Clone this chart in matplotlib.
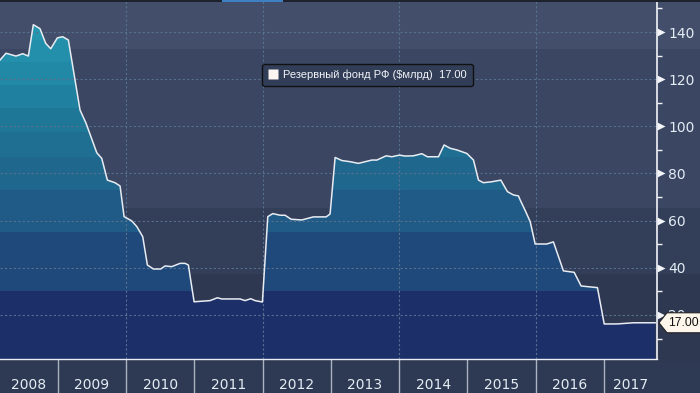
import matplotlib
matplotlib.use("Agg")
import matplotlib.pyplot as plt
import matplotlib.transforms as mtransforms
import numpy as np
from matplotlib.lines import Line2D
from matplotlib.patches import Polygon, Rectangle

# Резервный фонд РФ, $ млрд (время в долях года)
t_year = [
    2008.155, 2008.243, 2008.389, 2008.488, 2008.570, 2008.643, 2008.741, 2008.824,
    2008.898, 2008.994, 2009.073, 2009.156, 2009.327, 2009.415, 2009.572, 2009.645,
    2009.727, 2009.839, 2009.913, 2009.972, 2010.084, 2010.158, 2010.245, 2010.313,
    2010.401, 2010.508, 2010.572, 2010.670, 2010.792, 2010.865, 2010.913, 2010.997,
    2011.231, 2011.338, 2011.403, 2011.670, 2011.743, 2011.827, 2011.890, 2011.997,
    2012.076, 2012.149, 2012.256, 2012.329, 2012.418, 2012.574, 2012.744, 2012.930,
    2012.988, 2013.062, 2013.160, 2013.282, 2013.403, 2013.600, 2013.673, 2013.809,
    2013.893, 2014.003, 2014.087, 2014.208, 2014.332, 2014.413, 2014.575, 2014.658,
    2014.746, 2014.844, 2014.991, 2015.088, 2015.161, 2015.233, 2015.357, 2015.488,
    2015.585, 2015.673, 2015.746, 2015.771, 2015.850, 2015.918, 2015.991, 2016.162,
    2016.258, 2016.405, 2016.562, 2016.664, 2016.903, 2017.002, 2017.188, 2017.431,
    2017.748,
]
value_bn = [
    128.1, 131.0, 129.8, 130.8, 129.8, 143.1, 141.4, 135.2,
    132.9, 137.5, 138.0, 136.6, 106.9, 101.3, 88.8, 86.4,
    77.2, 76.1, 74.7, 61.7, 59.9, 57.5, 53.2, 41.2,
    39.5, 39.5, 40.8, 40.5, 41.9, 41.9, 41.2, 25.6,
    26.1, 27.3, 26.8, 26.8, 26.1, 26.9, 26.1, 25.5,
    61.7, 63.0, 62.3, 62.3, 60.6, 60.3, 61.6, 61.6,
    62.8, 86.8, 85.5, 85.0, 84.3, 85.7, 85.7, 87.5,
    87.1, 87.8, 87.4, 87.5, 88.4, 87.1, 87.1, 92.1,
    90.7, 90.0, 88.5, 85.7, 77.2, 76.1, 76.5, 77.2,
    72.3, 70.9, 70.5, 68.8, 64.0, 59.6, 50.1, 50.1,
    51.0, 38.7, 38.1, 32.3, 31.6, 16.2, 16.2, 16.7,
    16.7,
]
years = list(range(2008, 2018))
y_major = [20, 40, 60, 80, 100, 120, 140]
y_minor = [10, 30, 50, 70, 90, 110, 130, 150]
series_name = "Резервный фонд РФ ($млрд)"
last_label = "17.00"

# ступенчатая "градиентная" заливка и полосы фона
fill_edges = [0, 30.2, 55.2, 73.0, 87.1, 97.7, 107.6, 117.5, 127.4, 136.6, 160]
fill_colors = ["#1c2f69", "#1f497b", "#1f5b86", "#20678e", "#1f6f93",
               "#1f7798", "#20809f", "#2188a5", "#238faa", "#2595ae"]
bg_edges = [0, 37.4, 65.4, 132.8, 160]
bg_colors = ["#2e3851", "#333e59", "#3a4662", "#434f6a"]

X0, X1 = 2008.155, 2017.775
Y0, Y1 = 1.34, 153.57

W, H = 700, 393
fig = plt.figure(figsize=(W / 100, H / 100), dpi=100)
fig.patch.set_facecolor("#2e3a53")
ax = fig.add_axes([0, 34 / H, 657 / W, 1 - 34 / H])
ax.set_facecolor("none")
ax.set_xlim(X0, X1)
ax.set_ylim(Y0, Y1)

plt.rcParams["font.family"] = ["Liberation Sans", "DejaVu Sans"]
txt_col = "#e4ecf4"

t = np.asarray(t_year, dtype=float)
v = np.asarray(value_bn, dtype=float)

# фон полосами (продолжается под правой осью)
for lo, hi, c in zip(bg_edges[:-1], bg_edges[1:], bg_colors):
    ax.axhspan(lo, hi, xmin=0, xmax=W / 657, color=c, lw=0, zorder=0, clip_on=False)

# область под кривой, полосы обрезаны по ней
verts = [(t[0], Y0)] + list(zip(t, v)) + [(t[-1], Y0)]
area = Polygon(verts, closed=True, facecolor="none", edgecolor="none")
ax.add_patch(area)
for lo, hi, c in zip(fill_edges[:-1], fill_edges[1:], fill_colors):
    band = ax.axhspan(lo, hi, color=c, lw=0, zorder=1)
    band.set_clip_path(area)

# сетка
grid_kw = dict(color="#56718f", lw=0.8, ls=(0, (2, 2)), zorder=2)
for y in y_major:
    ax.axhline(y, **grid_kw)
for yr in [2010, 2012, 2014, 2016]:
    ax.axvline(yr, **grid_kw)

ax.plot(t, v, color="#e8ecf2", lw=1.1, zorder=3)

# оси
for s in ["top", "left"]:
    ax.spines[s].set_visible(False)
ax.spines["right"].set_color("#f2f4f8")
ax.spines["right"].set_linewidth(1.2)
ax.spines["bottom"].set_color("#e8eef4")
ax.spines["bottom"].set_linewidth(1.0)
ax.spines["right"].set_zorder(4)

ax.yaxis.tick_right()
ax.set_yticks(y_major)
ax.set_yticklabels([str(y) for y in y_major])
ax.set_yticks(y_minor, minor=True)
ax.tick_params(axis="y", which="major", length=0, pad=8, labelsize=10, labelcolor=txt_col)
ax.tick_params(axis="y", which="minor", length=3.6, width=1, color="#f2f4f8", direction="out")
ax.plot([1 + 4 / 657] * len(y_major), y_major, marker=">", ms=6, ls="none",
        color="#f2f4f8", mec="none", transform=ax.get_yaxis_transform(),
        clip_on=False, zorder=5)

# годы: разделители и подписи по центру видимой части года
ax.set_xticks(years[1:])
ax.set_xticklabels([])
mids = [(max(y, X0) + min(y + 1, X1)) / 2 for y in years]
ax.set_xticks(mids, minor=True)
ax.set_xticklabels([str(y) for y in years], minor=True)
ax.tick_params(axis="x", which="major", length=24.5, width=1, color="#aab3c0", direction="out")
ax.tick_params(axis="x", which="minor", length=0, pad=14, labelsize=10, labelcolor=txt_col)

# метка последнего значения
pen = [(0.02, 0), (0.10, 0.10), (0.45, 0.10), (0.45, -0.10), (0.10, -0.10)]
pen_tr = fig.dpi_scale_trans + mtransforms.ScaledTranslation(1.0, v[-1], ax.get_yaxis_transform())
ax.add_patch(Polygon(pen, closed=True, facecolor="#fdf6ea", edgecolor="#222222",
                     lw=0.8, transform=pen_tr, clip_on=False, zorder=6))
ax.text(0.265, 0, last_label, transform=pen_tr, ha="center", va="center",
        fontsize=8.8, color="#111111", zorder=7, clip_on=False)

# легенда
h = Line2D([], [], marker="s", ls="none", color="#fdf6f0", ms=7.5, mec="none")
leg = ax.legend([h], [series_name + "  " + last_label], loc="center",
                bbox_to_anchor=(367.5 / W, 1 - 75 / H), bbox_transform=fig.transFigure,
                frameon=True, fancybox=True, facecolor="#323e58", edgecolor="#111111",
                framealpha=1, fontsize=8, labelcolor="#f2f4f8", handlelength=0.8,
                handletextpad=0.5, borderpad=0.55, borderaxespad=0)
leg.get_frame().set_linewidth(1.0)
leg.set_zorder(8)

# верхняя полоска вкладок
fig.add_artist(Rectangle((0, 1 - 2 / H), 1, 2 / H, transform=fig.transFigure,
                         color="#1e222c", lw=0, zorder=10))
fig.add_artist(Rectangle((222 / W, 1 - 2 / H), 61 / W, 2 / H, transform=fig.transFigure,
                         color="#3d7fc0", lw=0, zorder=11))

fig.savefig("out.png", dpi=100, facecolor=fig.get_facecolor())
